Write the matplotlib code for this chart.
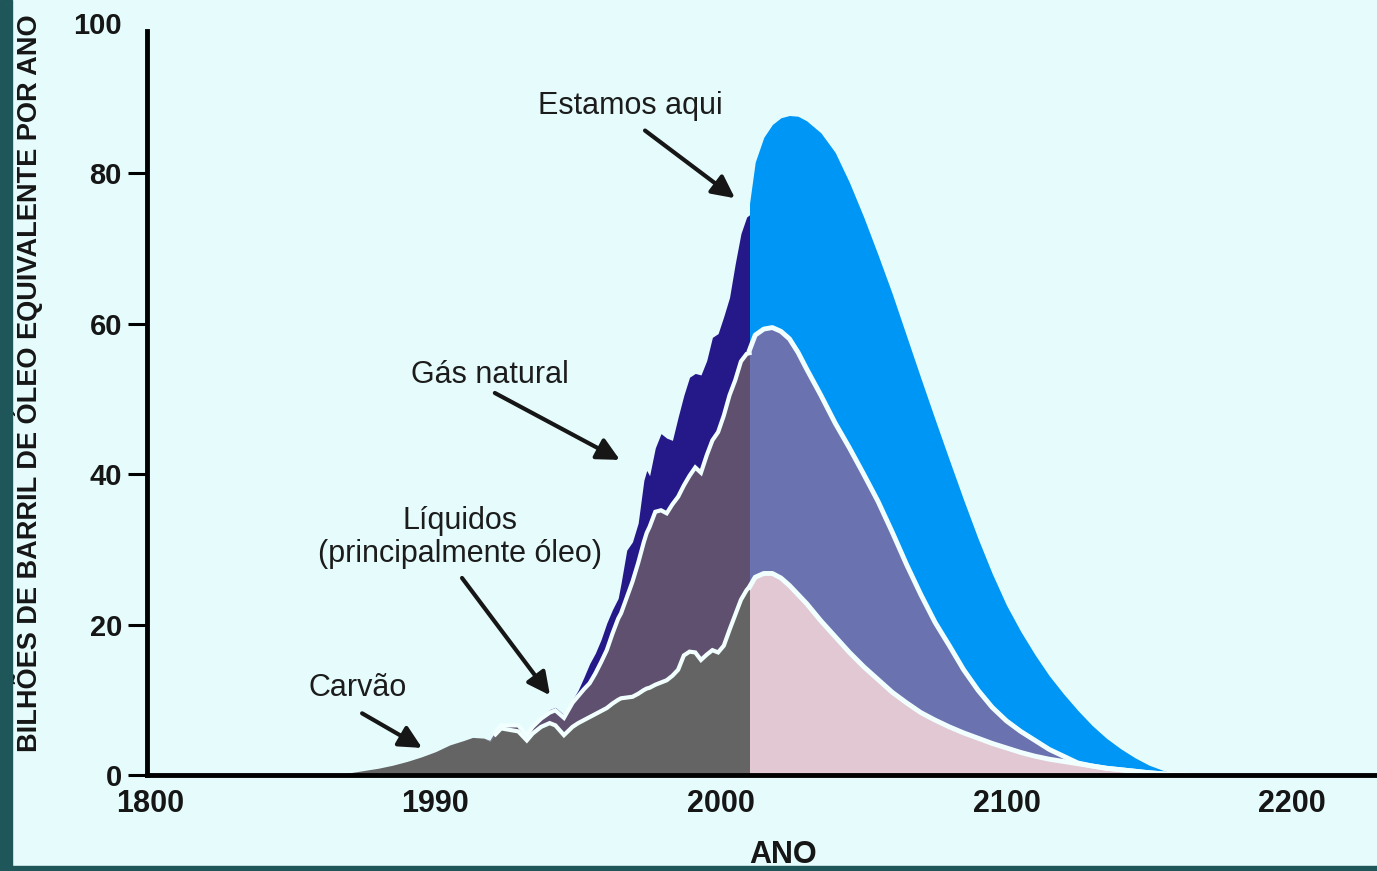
import numpy as np
import matplotlib
matplotlib.use("Agg")
import matplotlib.pyplot as plt
from matplotlib.patches import Rectangle

# historical production (billions of barrels of oil equivalent per year)
hist_years = [1865, 1870, 1875, 1880, 1885, 1890, 1895, 1900, 1905, 1910, 1913, 1917,
              1919, 1921, 1923, 1926, 1929, 1932, 1934, 1937, 1940, 1942, 1945, 1948,
              1950, 1952, 1954, 1956, 1958, 1960, 1962, 1964, 1965, 1967, 1969, 1971,
              1973, 1974, 1975, 1977, 1979, 1981, 1983, 1985, 1987, 1989, 1991, 1993,
              1995, 1997, 1999, 2001, 2003, 2005, 2007, 2009, 2010]
coal_hist = [0.0, 0.3, 0.6, 0.9, 1.3, 1.8, 2.4, 3.1, 4.0, 4.6, 5.0, 4.9,
             4.5, 5.4, 6.2, 6.0, 5.8, 4.6, 5.5, 6.4, 6.9, 6.6, 5.3, 6.4,
             6.9, 7.3, 7.7, 8.1, 8.5, 8.9, 9.5, 10.0, 10.2, 10.3, 10.4, 10.8,
             11.3, 11.5, 11.6, 12.0, 12.3, 12.6, 13.2, 14.0, 15.9, 16.4, 16.3, 15.3,
             16.0, 16.6, 16.3, 17.2, 19.3, 21.3, 23.3, 24.6, 25.0]
liquids_hist = [0, 0, 0, 0, 0, 0, 0, 0, 0, 0, 0, 0,
                0.1, 0.3, 0.4, 0.6, 0.8, 0.7, 0.9, 1.1, 1.4, 2.0, 2.3, 3.2,
                3.6, 4.1, 4.5, 5.4, 6.5, 7.7, 9.3, 10.8, 11.3, 13.3, 15.3, 17.4,
                19.7, 20.7, 21.4, 23.0, 22.9, 22.2, 22.8, 23.0, 22.6, 23.4, 24.6, 24.9,
                26.5, 27.9, 29.3, 30.6, 31.2, 31.2, 31.7, 31.4, 31.1]
gas_hist = [0, 0, 0, 0, 0, 0, 0, 0, 0, 0, 0, 0,
            0, 0.1, 0.1, 0.2, 0.2, 0.2, 0.3, 0.3, 0.4, 0.4, 0.4, 0.4,
            0.8, 1.6, 2.6, 2.7, 3.0, 3.6, 3.2, 2.7, 4.0, 6.3, 5.3, 5.3,
            8.2, 8.3, 6.8, 8.5, 10.2, 10.0, 8.5, 10.6, 12.0, 13.1, 12.5, 13.0,
            12.6, 13.7, 13.1, 13.2, 13.0, 15.5, 17.0, 18.2, 18.4]

# projection
fut_years = [2010, 2012, 2015, 2018, 2021, 2024, 2027, 2030, 2035, 2040, 2045, 2050,
             2055, 2060, 2065, 2070, 2075, 2080, 2085, 2090, 2095, 2100, 2105, 2110,
             2115, 2120, 2125, 2130, 2135, 2140, 2145, 2150, 2155, 2160, 2163]
coal_fut = [25.0, 26.3, 26.8, 26.8, 26.2, 25.2, 24.0, 22.8, 20.5, 18.4, 16.3, 14.4,
            12.7, 11.0, 9.6, 8.3, 7.3, 6.4, 5.6, 4.9, 4.2, 3.6, 3.0, 2.5,
            2.1, 1.8, 1.5, 1.2, 0.9, 0.7, 0.5, 0.3, 0.15, 0.05, 0]
liquids_fut = [31.5, 32.2, 32.5, 32.7, 32.8, 32.8, 32.2, 31.2, 30.0, 28.4, 27.2, 25.6,
               23.7, 21.3, 18.4, 15.7, 13.0, 10.8, 8.4, 6.4, 4.8, 3.6, 2.8, 2.1,
               1.3, 0.7, 0.1, 0, 0, 0, 0, 0, 0, 0, 0]
gas_fut = [19.5, 23.0, 25.5, 27.0, 28.4, 29.7, 31.4, 33.0, 34.9, 36.0, 35.3, 34.2,
           32.8, 31.7, 30.4, 28.8, 27.0, 24.7, 22.6, 20.2, 17.8, 15.4, 13.3, 11.4,
           9.8, 8.3, 7.0, 5.4, 4.0, 2.8, 1.8, 1.0, 0.45, 0.05, 0]

x_ticks = [1800, 1900, 2000, 2100, 2200]
x_labels = ["1800", "1990", "2000", "2100", "2200"]
y_ticks = [0, 20, 40, 60, 80, 100]

bg = "#E6FCFC"
line_white = "#F2FFFF"
ink = "#161616"
sans = ["Liberation Sans", "DejaVu Sans"]

fig = plt.figure(figsize=(13.77, 8.71), dpi=100, facecolor=bg)
ax = fig.add_axes([147 / 1377, 96 / 871, 1230 / 1377, 752 / 871])
ax.set_facecolor(bg)

hy = np.array(hist_years)
c1 = np.array(coal_hist)
c2 = c1 + np.array(liquids_hist)
c3 = c2 + np.array(gas_hist)
fy = np.array(fut_years)
f1 = np.array(coal_fut)
f2 = f1 + np.array(liquids_fut)
f3 = f2 + np.array(gas_fut)

ax.fill_between(hy, 0, c1, color="#646464", lw=0, zorder=2)
ax.fill_between(hy, c1, c2, color="#5F5070", lw=0, zorder=2)
ax.fill_between(hy, c2, c3, color="#25198A", lw=0, zorder=2)
ax.fill_between(fy, 0, f1, color="#E2C8D2", lw=0, zorder=2)
ax.fill_between(fy, f1, f2, color="#6B72B0", lw=0, zorder=2)
ax.fill_between(fy, f2, f3, color="#0096F5", lw=0, zorder=2)

m = hy >= 1921
ax.plot(hy[m], c1[m], color=line_white, lw=3, zorder=3, solid_joinstyle="miter")
ax.plot(hy[m], c2[m], color=line_white, lw=3, zorder=3, solid_joinstyle="miter")
ax.plot(fy, f1, color=line_white, lw=3.5, zorder=3)
ax.plot(fy, f2, color=line_white, lw=3.5, zorder=3)

ax.set_xlim(1798.95, 2229.8)
ax.set_ylim(0, 100)
for s in ["top", "right"]:
    ax.spines[s].set_visible(False)
ax.spines["left"].set_linewidth(3.5)
ax.spines["bottom"].set_linewidth(3.5)
ax.spines["left"].set_bounds(0, 99)
ax.spines["left"].set_zorder(5)
ax.spines["bottom"].set_zorder(5)

ax.set_yticks(y_ticks)
ax.set_yticklabels([str(v) for v in y_ticks], fontsize=21, fontweight="bold",
                   family=sans, color=ink)
ax.tick_params(axis="y", length=14, width=2.2, pad=4)
ax.yaxis.get_major_ticks()[-1].tick1line.set_visible(False)
ax.set_xticks(x_ticks)
ax.set_xticklabels(x_labels, fontsize=22, fontweight="bold", family=sans, color=ink)
ax.tick_params(axis="x", length=0, pad=10)

fig.text(28 / 1377, 1 - 383 / 871, "BILHÕES DE BARRIL DE ÓLEO EQUIVALENTE POR ANO",
         rotation=90, ha="center", va="center", fontsize=19.5, fontweight="bold",
         family=sans, color=ink)
fig.text(783 / 1377, 1 - 855 / 871, "ANO", ha="center", va="center",
         fontsize=22, fontweight="bold", family=sans, color=ink)

txt = dict(fontsize=22, family=sans, color="#1c1c1c", ha="center", va="center")
arrow = dict(arrowstyle="-|>", lw=3, color=ink, mutation_scale=34,
             shrinkA=0, shrinkB=0)
ax.text(1968.1, 88.9, "Estamos aqui", **txt)
ax.annotate("", xy=(2004.9, 76.7), xytext=(1973.4, 85.7), arrowprops=arrow)
ax.text(1919.1, 53.2, "Gás natural", **txt)
ax.annotate("", xy=(1964.6, 41.9), xytext=(1920.8, 50.8), arrowprops=arrow)
ax.text(1908.6, 31.6, "Líquidos\n(principalmente óleo)", linespacing=1.15, **txt)
ax.annotate("", xy=(1940.1, 10.6), xytext=(1909.3, 26.2), arrowprops=arrow)
ax.text(1872.9, 11.6, "Carvão", **txt)
ax.annotate("", xy=(1895.3, 3.6), xytext=(1874.3, 8.2), arrowprops=arrow)

# dark frame strips
fig.patches.append(Rectangle((0, 0), 12 / 1377, 1, transform=fig.transFigure,
                             color="#1F5659", zorder=10))
fig.patches.append(Rectangle((0, 0), 1, 5 / 871, transform=fig.transFigure,
                             color="#1F5659", zorder=10))

fig.savefig("out.png", dpi=100, facecolor=bg)
